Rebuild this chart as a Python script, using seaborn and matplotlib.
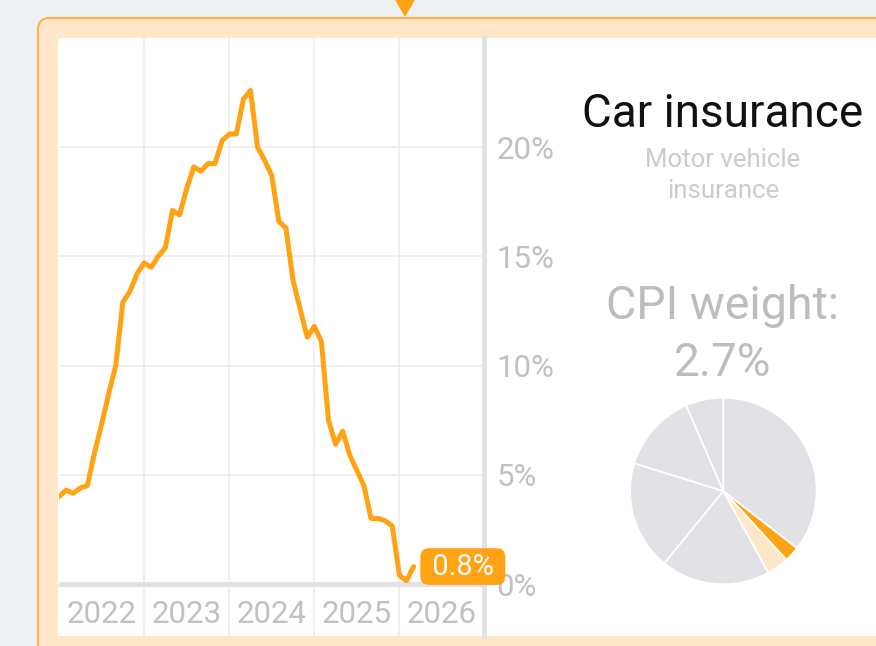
import pandas as pd
import matplotlib
matplotlib.use("Agg")
import matplotlib.pyplot as plt
from matplotlib.patches import FancyBboxPatch, Rectangle, Polygon
import seaborn as sns

# motor vehicle insurance CPI, % change from a year earlier, monthly from Jan 2022
yoy = [4.0, 4.3, 4.15, 4.4, 4.5, 6.0, 7.3, 8.7, 10.0, 12.9, 13.4, 14.2,
       14.7, 14.5, 15.0, 15.4, 17.1, 16.9, 18.1, 19.1, 18.9, 19.25, 19.25, 20.3,
       20.6, 20.6, 22.2, 22.6, 20.0, 19.4, 18.7, 16.6, 16.3, 13.9, 12.6, 11.3,
       11.8, 11.1, 7.5, 6.4, 7.0, 5.9, 5.2, 4.5, 3.0, 3.0, 2.9, 2.65,
       0.4, 0.15, 0.8]
start_month = "2022-01-01"
years = [2022, 2023, 2024, 2025, 2026]
yticks = [0, 5, 10, 15, 20]

title = "Car insurance"
subtitle_lines = ["Motor vehicle", "insurance"]
cpi_weight = 2.7

# CPI weights, clockwise from 12 o'clock; slice 1 = car insurance, slice 2 = related
pie_weights = [35.5, 2.7, 3.8, 18.9, 18.9, 13.7, 6.5]
highlight = 1
related = 2

ORANGE = "#ffa314"
PEACH = "#fee6c9"
GRAY = "#e2e2e6"
TXT_GRAY = "#c0c0c5"

sns.set_theme(style="white")
plt.rcParams["font.family"] = ["Roboto", "DejaVu Sans"]

months = pd.date_range(start_month, periods=len(yoy), freq="MS")
df = pd.DataFrame({"x": months.year + (months.month - 1) / 12, "yoy": yoy})

W, H = 876, 646
fig = plt.figure(figsize=(W / 100, H / 100), dpi=100)
fig.patch.set_facecolor("#eff0f4")
tr = fig.dpi_scale_trans

# card, white panel, pointer (pixel values / 100 -> inches)
card = FancyBboxPatch((0.38, -0.3), 9.5, 6.58, boxstyle="round,pad=0,rounding_size=0.12",
                      fc=PEACH, ec="#fbb24b", lw=1.5, transform=tr, zorder=-3)
fig.add_artist(card)
fig.add_artist(Rectangle((0.58, 0.10), 9.0, 5.98, fc="white", ec="none", transform=tr, zorder=-2))
fig.add_artist(Polygon([(3.87, 6.6), (4.23, 6.6), (4.05, 6.29)], closed=True,
                       fc=ORANGE, ec="none", transform=tr, zorder=-1))

# line chart
ax = fig.add_axes([59 / W, 10 / H, (484.5 - 59) / W, 598 / H])
ax.set_facecolor("none")
sns.lineplot(data=df, x="x", y="yoy", ax=ax, color=ORANGE, lw=3.6,
             solid_capstyle="round", solid_joinstyle="round", zorder=4)
ax.set_xlim(years[0], years[-1] + 1)
ax.set_ylim(-2.38, 25)
ax.set_xlabel("")
ax.set_ylabel("")

ax.set_xticks(years[1:])
ax.set_yticks(yticks[1:] + [0], labels=[f"{v}%" for v in yticks[1:] + [0]])
ax.yaxis.tick_right()
ax.tick_params(axis="x", length=0, labelbottom=False)
ax.tick_params(axis="y", length=0, pad=8.5, labelsize=22.5, labelcolor=TXT_GRAY)
ax.grid(True, color="#ececee", lw=1.2)
ax.axhline(0, color="#e2e2e6", lw=3.6, zorder=3)

for s in ["top", "left", "bottom"]:
    ax.spines[s].set_visible(False)
ax.spines["right"].set_color("#e3e3e7")
ax.spines["right"].set_linewidth(3.6)

for y in years:
    ax.text(y + 0.5, -1.8, str(y), ha="center", va="baseline", fontsize=22.5, color=TXT_GRAY)

ax.annotate(f" {yoy[-1]:.1f}% ", xy=(df.x.iloc[-1], yoy[-1]), xytext=(8, 0),
            textcoords="offset points", ha="left", va="center", fontsize=21, color="white",
            bbox=dict(boxstyle="round,pad=0.15,rounding_size=0.3", fc=ORANGE, ec="none"),
            zorder=6)

# right side text
cx = 723 / W
fig.text(cx, 1 - 127 / H, title, ha="center", va="baseline", fontsize=33, color="#111111")
fig.text(cx, 1 - 167 / H, subtitle_lines[0], ha="center", va="baseline", fontsize=18.5,
         color="#cbcbd0")
fig.text(cx, 1 - 198 / H, subtitle_lines[1], ha="center", va="baseline", fontsize=18.5,
         color="#cbcbd0")
fig.text(cx, 1 - 319 / H, "CPI weight:", ha="center", va="baseline", fontsize=33.5,
         color="#bcbcc1")
fig.text(cx, 1 - 376 / H, f"{cpi_weight}%", ha="center", va="baseline", fontsize=33,
         color="#bcbcc1")

# pie of CPI weights
r = 93.3
pax = fig.add_axes([(723.3 - r) / W, 1 - (491 + r) / H, 2 * r / W, 2 * r / H])
colors = [GRAY] * len(pie_weights)
colors[highlight] = ORANGE
colors[related] = PEACH
pax.pie(pie_weights, colors=colors, startangle=90, counterclock=False,
        wedgeprops=dict(edgecolor="white", linewidth=1.3))
pax.set_xlim(-1, 1)
pax.set_ylim(-1, 1)
pax.axis("off")

fig.savefig("out.png", dpi=100)
